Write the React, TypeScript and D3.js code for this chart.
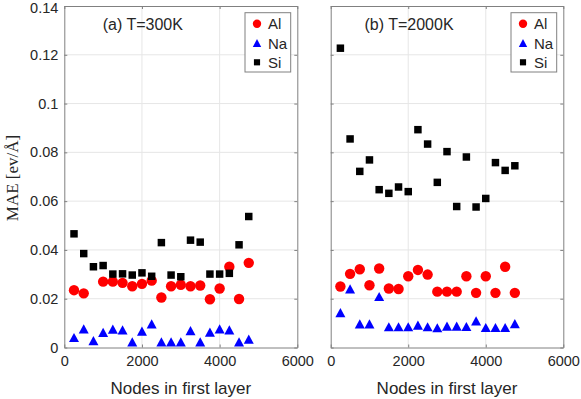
import { useEffect, useRef } from 'react';
import * as d3 from 'd3';

const nodes = [250, 500, 750, 1000, 1250, 1500, 1750, 2000, 2250, 2500, 2750, 3000, 3250, 3500, 3750, 4000, 4250, 4500, 4750];

// (a) T=300K  (null = no visible marker)
const al300 = [0.0235, 0.0222, null, 0.027, 0.027, 0.0265, 0.0251, 0.0261, 0.0274, 0.0205, 0.0251, 0.0257, 0.0251, 0.0254, 0.0198, 0.0242, 0.0331, 0.0199, 0.0347];
const na300 = [0.0041, 0.0076, 0.0028, 0.0062, 0.0075, 0.0072, 0.0023, 0.0067, 0.0097, 0.0023, 0.0023, 0.0023, 0.0069, 0.0023, 0.0063, 0.0076, 0.0072, 0.0023, 0.0034];
const si300 = [0.0466, 0.0385, 0.0331, 0.0336, 0.0301, 0.0302, 0.0297, 0.0306, 0.0292, 0.043, 0.0297, 0.029, 0.044, 0.0432, 0.0301, 0.0301, 0.0304, 0.0421, 0.0537];

// (b) T=2000K
const al2000 = [0.025, 0.0302, 0.0321, 0.0255, 0.0324, 0.0242, 0.024, 0.0292, 0.0318, 0.0299, 0.0229, 0.0229, 0.0229, 0.0292, 0.0224, 0.0292, 0.0224, 0.0331, 0.0224];
const na2000 = [0.0143, 0.024, 0.0097, 0.0097, 0.0209, 0.0085, 0.0085, 0.0085, 0.0092, 0.0085, 0.0081, 0.0088, 0.0088, 0.0086, 0.0109, 0.0082, 0.0082, 0.0082, 0.0098];
const si2000 = [0.1227, 0.0855, 0.0722, 0.0769, 0.0647, 0.0632, 0.0658, 0.0639, 0.0893, 0.0834, 0.0677, 0.0803, 0.0578, 0.0781, 0.0576, 0.0611, 0.0758, 0.0726, 0.0745];

const xTicks = [0, 2000, 4000, 6000];
const yTicks = [0, 0.02, 0.04, 0.06, 0.08, 0.1, 0.12, 0.14];
const seriesNames = ['Al', 'Na', 'Si'];
const seriesColors = ['#ff0000', '#0000ff', '#000000'];

const panels = [
  { title: '(a) T=300K', left: 64.3, right: 297.3, series: [al300, na300, si300], yLabels: true },
  { title: '(b) T=2000K', left: 330.7, right: 563.3, series: [al2000, na2000, si2000], yLabels: false },
];

const W = 581;
const H = 399;
const top = 6;
const bottom = 347.5;
const font = '"Liberation Sans", Arial, sans-serif';
const textColor = '#262626';
const axisColor = '#808080';

const markerPath = (kind: number, big: boolean) => {
  if (kind === 0) return d3.symbol(d3.symbolCircle, big ? 85 : 55)()!;
  if (kind === 2) return d3.symbol(d3.symbolSquare, big ? 56 : 38)()!;
  const w = big ? 5 : 4.2, h = big ? 4.6 : 4;
  return `M0,${-h}L${w},${h}L${-w},${h}Z`;
};

const App = () => {
  const svgRef = useRef<SVGSVGElement>(null);

  useEffect(() => {
    const svg = d3.select(svgRef.current);
    svg.selectAll('*').remove();

    const y = d3.scaleLinear().domain([0, 0.14]).range([bottom, top]);

    panels.forEach((p) => {
      const x = d3.scaleLinear().domain([0, 6000]).range([p.left, p.right]);
      const g = svg.append('g');

      g.append('rect')
        .attr('x', p.left).attr('y', top)
        .attr('width', p.right - p.left).attr('height', bottom - top)
        .attr('fill', '#fff');

      // grid
      g.selectAll('.gx').data(xTicks.slice(1, -1)).join('line')
        .attr('x1', (d) => x(d)).attr('x2', (d) => x(d))
        .attr('y1', top).attr('y2', bottom)
        .attr('stroke', '#e6e6e6').attr('stroke-width', 1);
      g.selectAll('.gy').data(yTicks.slice(1, -1)).join('line')
        .attr('y1', (d) => y(d)).attr('y2', (d) => y(d))
        .attr('x1', p.left).attr('x2', p.right)
        .attr('stroke', '#e6e6e6').attr('stroke-width', 1);

      // axes (inward ticks, box)
      const axB = g.append('g').attr('transform', `translate(0,${bottom})`)
        .call(d3.axisBottom(x).tickValues(xTicks).tickSizeInner(-3).tickSizeOuter(0).tickPadding(8).tickFormat(d3.format('d')));
      const axT = g.append('g').attr('transform', `translate(0,${top})`)
        .call(d3.axisTop(x).tickValues(xTicks).tickSizeInner(-3).tickSizeOuter(0).tickFormat(() => ''));
      const axL = g.append('g').attr('transform', `translate(${p.left},0)`)
        .call(d3.axisLeft(y).tickValues(yTicks).tickSizeInner(-3).tickSizeOuter(0).tickPadding(6)
          .tickFormat(p.yLabels ? (d) => String(+d) : () => ''));
      const axR = g.append('g').attr('transform', `translate(${p.right},0)`)
        .call(d3.axisRight(y).tickValues(yTicks).tickSizeInner(-3).tickSizeOuter(0).tickFormat(() => ''));
      [axB, axT, axL, axR].forEach((a) => {
        a.selectAll('path, line').attr('stroke', axisColor);
        a.selectAll('text').attr('fill', textColor).style('font-family', font).style('font-size', '14.5px');
      });
      // keep the top label inside the picture
      axL.selectAll('text').filter((d) => d === 0.14).attr('dy', '0.42em');

      // series
      p.series.forEach((vals, k) => {
        g.append('g').selectAll('path')
          .data(nodes.map((n, i) => [n, vals[i]] as [number, number | null]).filter((d) => d[1] !== null))
          .join('path')
          .attr('transform', (d) => `translate(${x(d[0])},${y(d[1] as number)})`)
          .attr('d', markerPath(k, true))
          .attr('fill', seriesColors[k]);
      });

      // title
      g.append('text')
        .attr('x', (p.left + p.right) / 2 - 38).attr('y', 30)
        .attr('text-anchor', 'middle')
        .attr('fill', textColor).style('font-family', font).style('font-size', '16px')
        .text(p.title);

      // legend
      const lx = p.right - 52.3;
      const leg = g.append('g');
      leg.append('rect')
        .attr('x', lx).attr('y', 12.7).attr('width', 45.7).attr('height', 59.3)
        .attr('fill', '#fff').attr('stroke', axisColor);
      seriesNames.forEach((name, k) => {
        const ly = 23.7 + k * 19.3;
        leg.append('path')
          .attr('transform', `translate(${lx + 12},${ly})`)
          .attr('d', markerPath(k, false))
          .attr('fill', seriesColors[k]);
        leg.append('text')
          .attr('x', lx + 23).attr('y', ly + 5.5)
          .attr('fill', textColor).style('font-family', font).style('font-size', '15px')
          .text(name);
      });

      // x label
      g.append('text')
        .attr('x', (p.left + p.right) / 2).attr('y', 394)
        .attr('text-anchor', 'middle')
        .attr('fill', textColor).style('font-family', font).style('font-size', '17px')
        .text('Nodes in first layer');
    });

    svg.append('text')
      .attr('transform', `translate(18,178) rotate(-90)`)
      .attr('text-anchor', 'middle')
      .attr('fill', textColor).style('font-family', '"Liberation Serif", "DejaVu Serif", serif').style('font-size', '17px')
      .text('MAE [ev/Å]');
  }, []);

  return (
    <div style={{ position: 'absolute', left: 0, top: 0 }}>
      <svg ref={svgRef} width={W} height={H} style={{ display: 'block', background: '#fff' }} />
    </div>
  );
};

export default App;
